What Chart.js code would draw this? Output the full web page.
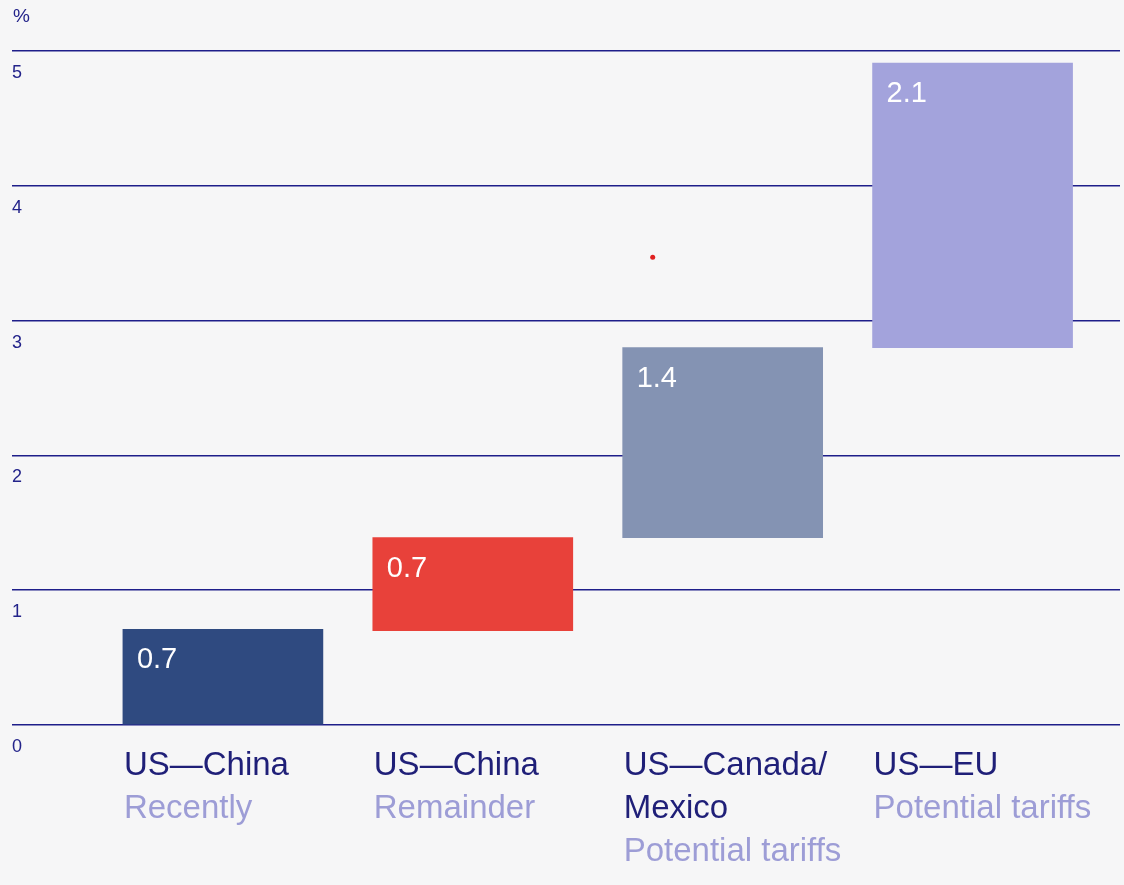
<!DOCTYPE html>
<html>
<head>
<meta charset="utf-8">
<script src="https://cdn.jsdelivr.net/npm/chart.js@4.4.1/dist/chart.umd.min.js"></script>
<style>
  html, body { margin: 0; padding: 0; background: #f6f6f7; }
  #wrap { width: 1124px; height: 885px; position: relative; }
</style>
</head>
<body>
<div id="wrap"><canvas id="c" width="1124" height="885"></canvas></div>
<script>
// ---- data ----
const categories = [["US\u2014China"], ["US\u2014China"], ["US\u2014Canada/", "Mexico"], ["US\u2014EU"]];
const subLabels = ["Recently", "Remainder", "Potential tariffs", "Potential tariffs"];
const barStarts = [0, 0.70, 1.39, 2.80];
const barEnds = [0.71, 1.39, 2.80, 4.91];
const valueLabels = ["0.7", "0.7", "1.4", "2.1"];
const barColors = ["#2f4a80", "#e8413a", "#8493b3", "#a3a3dc"];
const yTicks = [0, 1, 2, 3, 4, 5];
const unitLabel = "%";
const dotPoint = [{ x: 1.72, y: 3.47 }];

const NAVY = "#23238a";
const LIGHT = "#9d9dd6";
const FONT = "'Liberation Sans', Arial, Helvetica, sans-serif";

const positions = categories.map((_, i) => i);

const labelsPlugin = {
  id: "customLabels",
  afterDatasetsDraw(chart) {
    const ctx = chart.ctx;
    const ys = chart.scales.y;
    const meta = chart.getDatasetMeta(0);
    ctx.save();
    // value labels inside bars
    ctx.fillStyle = "#ffffff";
    ctx.font = "29px " + FONT;
    ctx.textBaseline = "middle";
    ctx.textAlign = "left";
    meta.data.forEach((bar, i) => {
      const left = bar.x - bar.width / 2;
      const top = Math.min(bar.y, bar.base);
      ctx.fillText(valueLabels[i], left + 14, top + 31);
    });
    // category labels below axis
    meta.data.forEach((bar, i) => {
      const left = bar.x - bar.width / 2;
      let y = ys.getPixelForValue(0) + 41;
      ctx.font = "33px " + FONT;
      ctx.fillStyle = "#1f1f78";
      categories[i].forEach(line => { ctx.fillText(line, left + 1, y); y += 43; });
      ctx.fillStyle = LIGHT;
      ctx.fillText(subLabels[i], left + 1, y);
    });
    // unit label
    ctx.font = "19px " + FONT;
    ctx.fillStyle = NAVY;
    ctx.fillText(unitLabel, 13, 17);
    ctx.restore();
  }
};

new Chart(document.getElementById("c"), {
  type: "bar",
  data: {
    datasets: [
      {
        type: "bar",
        data: positions.map((p, i) => ({ x: p, y: [barStarts[i], barEnds[i]] })),
        backgroundColor: barColors,
        borderWidth: 0,
        barThickness: 200,
        order: 2
      },
      {
        type: "scatter",
        data: dotPoint,
        backgroundColor: "#e02020",
        borderWidth: 0,
        pointRadius: 2.5,
        order: 1
      }
    ]
  },
  options: {
    responsive: false,
    animation: false,
    events: [],
    layout: { padding: { left: 12, right: 0, top: 51, bottom: 160 } },
    plugins: { legend: { display: false }, tooltip: { enabled: false } },
    scales: {
      x: {
        type: "linear",
        offset: false,
        min: -0.844,
        max: 3.59,
        display: false
      },
      y: {
        min: 0,
        max: 5,
        afterBuildTicks(axis) { axis.ticks = yTicks.map(v => ({ value: v })); },
        border: { display: false },
        grid: { color: "#1e1e8a", lineWidth: 1.5, drawTicks: false },
        ticks: {
          mirror: true,
          padding: 0,
          labelOffset: 22,
          color: NAVY,
          font: { family: FONT, size: 18 }
        }
      }
    }
  },
  plugins: [labelsPlugin]
});
</script>
</body>
</html>
